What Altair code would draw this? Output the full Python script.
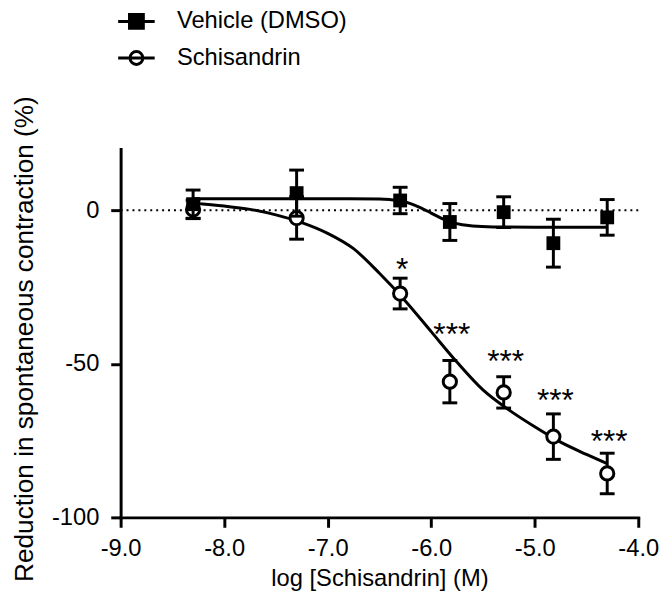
import altair as alt
import pandas as pd

FONT = "Liberation Sans"

# ---- data ----
series_names = ["Vehicle (DMSO)", "Schisandrin"]
log_conc = [-8.3, -7.3, -6.3, -5.82, -5.3, -4.82, -4.3]
vehicle_mean = [2.0, 5.6, 3.2, -3.8, -0.6, -10.7, -2.3]
vehicle_sem = [4.6, 7.5, 4.3, 6.0, 5.0, 7.8, 5.8]
schis_mean = [0.3, -2.5, -27.1, -55.8, -59.3, -73.7, -85.7]
schis_sem = [3.0, 6.9, 5.0, 6.9, 5.1, 7.4, 6.6]

fit_x_schis = [-8.3, -8.0, -7.75, -7.5, -7.25, -7.0, -6.75, -6.5, -6.25, -6.0,
               -5.75, -5.5, -5.25, -5.0, -4.75, -4.5, -4.3]
fit_y_schis = [2.3, 1.4, 0.3, -1.5, -4.0, -7.5, -12.5, -20.5, -29.5, -39.5,
               -49.5, -58.5, -65.0, -70.5, -75.5, -79.5, -82.5]

fit_x_vehicle = [-8.3, -7.5, -6.8, -6.5, -6.4, -6.3, -6.2, -6.1, -6.0, -5.9,
                 -5.8, -5.7, -5.6, -5.4, -5.0, -4.3]
fit_y_vehicle = [3.8, 3.8, 3.8, 3.7, 3.5, 3.1, 2.2, 0.8, -0.9, -2.6,
                 -3.9, -4.7, -5.1, -5.4, -5.5, -5.5]

sig_x = [-6.3, -5.82, -5.3, -4.82, -4.3]
sig_labels = ["*", "***", "***", "***", "***"]
sig_y = [-22.8, -44.0, -52.8, -65.5, -78.6]

x_ticks = [-9, -8, -7, -6, -5, -4]
y_ticks = [0, -50, -100]
zero_line = [0]

# ---- tables ----
veh_df = pd.DataFrame({"x": log_conc, "m": vehicle_mean, "s": vehicle_sem})
sch_df = pd.DataFrame({"x": log_conc, "m": schis_mean, "s": schis_sem})
fit_s_df = pd.DataFrame({"x": fit_x_schis, "y": fit_y_schis})
fit_v_df = pd.DataFrame({"x": fit_x_vehicle, "y": fit_y_vehicle})
sig_df = pd.DataFrame({"x": sig_x, "y": sig_y, "t": sig_labels})
zero_df = pd.DataFrame({"y": zero_line})
legend_df = pd.DataFrame({"series": series_names, "x": [log_conc[0]] * 2,
                          "y": [vehicle_mean[0], schis_mean[0]]})

xscale = alt.Scale(domain=[-9, -4], nice=False, zero=False)
yscale = alt.Scale(domain=[-100, 20], nice=False, zero=False)

xaxis = alt.Axis(
    values=x_ticks, title="log [Schisandrin] (M)",
    labelExpr="(datum.value < 0 ? '-' : '') + format(abs(datum.value), '.1f')",
    grid=False, tickSize=10, tickWidth=3, domainWidth=3, labelPadding=10,
    titlePadding=6, domainCap="square", labelFlush=False,
)
yaxis = alt.Axis(
    values=y_ticks, title="Reduction in spontaneous contraction (%)",
    labelExpr="(datum.value < 0 ? '-' : '') + format(abs(datum.value), 'd')",
    grid=False, tickSize=10, tickWidth=3, domainWidth=3, labelPadding=12,
    titlePadding=13, domainCap="square", titleFontSize=26.5, labelFlush=False,
    titleY=192,
)

X = alt.X("x:Q", scale=xscale, axis=xaxis)


def Y(field):
    return alt.Y(field, scale=yscale, axis=yaxis)


zero = alt.Chart(zero_df).mark_rule(color="black", strokeWidth=2, strokeDash=[2, 4]).encode(
    y=Y("y:Q")
)

fit_s = alt.Chart(fit_s_df).mark_line(color="black", strokeWidth=3, interpolate="monotone").encode(
    x=X, y=Y("y:Q")
)
fit_v = alt.Chart(fit_v_df).mark_line(color="black", strokeWidth=3, interpolate="monotone").encode(
    x=X, y=Y("y:Q")
)


def bars(df):
    base = alt.Chart(df).transform_calculate(lo="datum.m - datum.s", hi="datum.m + datum.s")
    rule = base.mark_rule(color="black", strokeWidth=3).encode(
        x=X, y=Y("lo:Q"), y2="hi:Q"
    )
    cap_hi = base.mark_point(shape="stroke", size=225, color="black", strokeWidth=3, opacity=1).encode(
        x=X, y=Y("hi:Q")
    )
    cap_lo = base.mark_point(shape="stroke", size=225, color="black", strokeWidth=3, opacity=1).encode(
        x=X, y=Y("lo:Q")
    )
    return rule + cap_hi + cap_lo


sch_pts = alt.Chart(sch_df).mark_point(
    shape="circle", size=180, filled=True, fill="white", stroke="black", strokeWidth=3, opacity=1
).encode(x=X, y=Y("m:Q"))

veh_pts = alt.Chart(veh_df).mark_point(
    shape="square", size=196, filled=True, color="black", opacity=1
).encode(x=X, y=Y("m:Q"))

sig = alt.Chart(sig_df).mark_text(
    font=FONT, fontSize=32, color="black", align="center", baseline="alphabetic", dx=2
).encode(x=X, y=Y("y:Q"), text="t:N")

path_sq = "M-2.64,0H2.64M-1,-1H1V1H-1Z"
path_ci = "M-2.64,0H2.64M0.93,0A0.93,0.93,0,1,1,-0.93,0A0.93,0.93,0,1,1,0.93,0Z"


def leg():
    return alt.Legend(
        title=None, orient="none", legendX=4, legendY=-141,
        symbolSize=196, symbolStrokeWidth=3, symbolStrokeColor="black",
        symbolOpacity=1, labelFontSize=24, labelFont=FONT, labelColor="black",
        labelOffset=29, rowPadding=11, padding=0, labelLimit=400,
    )


legend_layer = alt.Chart(legend_df).mark_point(size=0, strokeWidth=3, opacity=1).encode(
    x=X,
    y=Y("y:Q"),
    shape=alt.Shape("series:N", scale=alt.Scale(domain=series_names, range=[path_sq, path_ci]), legend=leg()),
    fill=alt.Fill("series:N", scale=alt.Scale(domain=series_names, range=["black", "white"]), legend=leg()),
    stroke=alt.Stroke("series:N", scale=alt.Scale(domain=series_names, range=["black", "black"]), legend=leg()),
)

chart = alt.layer(
    zero, fit_s, fit_v, bars(sch_df), sch_pts, bars(veh_df), veh_pts, sig, legend_layer
).properties(
    width=524, height=373,
    autosize=alt.AutoSizeParams(type="none"),
    padding={"left": 114, "top": 139, "right": 22, "bottom": 80},
).configure_view(stroke=None).configure_axis(
    labelFont=FONT, titleFont=FONT, labelFontSize=24, titleFontSize=24,
    titleFontWeight="normal", labelColor="black", titleColor="black",
    domainColor="black", tickColor="black",
)

chart.save("out.html", embed_options={"renderer": "svg", "actions": False})
